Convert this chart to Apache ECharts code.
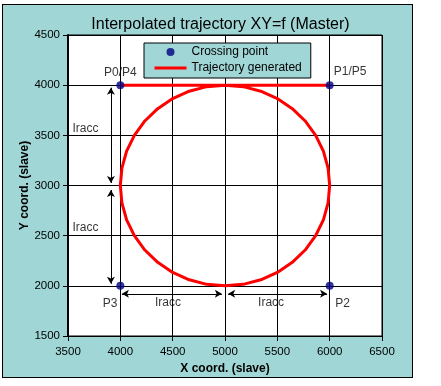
<!DOCTYPE html>
<html><head><meta charset="utf-8">
<script src="https://cdn.jsdelivr.net/npm/echarts@6/dist/echarts.min.js"></script>
<style>
html,body{margin:0;padding:0;background:#fff;}
#frame{position:absolute;left:2px;top:4px;width:409px;height:372px;border:1px solid #000;background:#A0D6D6;}
#c{position:absolute;left:0;top:0;width:441px;height:386px;}
</style></head>
<body>
<div id="frame"></div>
<div id="c"></div>
<script>
var FONT = 'Arial, "Liberation Sans", sans-serif';
var xTicks = [3500, 4000, 4500, 5000, 5500, 6000, 6500];
var yTicks = [1500, 2000, 2500, 3000, 3500, 4000, 4500];
// Crossing points
var crossX = [4000, 6000, 6000, 4000];
var crossY = [4000, 4000, 2000, 2000];
// Trajectory generated
var trajX = [4000, 5000, 5174, 5342, 5500, 5643, 5766, 5866, 5940, 5985, 6000, 5985, 5940, 5866, 5766, 5643, 5500, 5342, 5174, 5000, 4826, 4658, 4500, 4357, 4234, 4134, 4060, 4015, 4000, 4015, 4060, 4134, 4234, 4357, 4500, 4658, 4826, 5000, 6000];
var trajY = [4000, 4000, 3985, 3940, 3866, 3766, 3643, 3500, 3342, 3174, 3000, 2826, 2658, 2500, 2357, 2234, 2134, 2060, 2015, 2000, 2015, 2060, 2134, 2234, 2357, 2500, 2658, 2826, 3000, 3174, 3342, 3500, 3643, 3766, 3866, 3940, 3985, 4000, 4000];
// Annotation texts
var annText = ['P0/P4', 'P1/P5', 'P3', 'P2', 'Iracc', 'Iracc', 'Iracc', 'Iracc'];
var annX = [4000, 6195, 3903, 6123, 3667, 3667, 4455, 5440];
var annY = [4120, 4130, 1820, 1820, 3563, 2577, 1829, 1829];
// Dimension arrows [x1, y1, x2, y2]
var arrows = [[3910, 3975, 3910, 3025], [3910, 2955, 3910, 2020], [4015, 1920, 4970, 1920], [5030, 1920, 5975, 1920]];

var chart = echarts.init(document.getElementById('c'), null, {renderer: 'canvas'});
var crossData = crossX.map(function (x, i) { return [x, crossY[i]]; });
var trajData = trajX.map(function (x, i) { return [x, trajY[i]]; });
var annData = annText.map(function (t, i) { return {name: t, value: [annX[i], annY[i]]}; });
var arrowData = arrows.map(function (a) { return [{coord: [a[0], a[1]]}, {coord: [a[2], a[3]]}]; });
var plain = function (v) { return String(v); };

chart.setOption({
  backgroundColor: 'transparent',
  animation: false,
  textStyle: {fontFamily: FONT},
  title: {
    text: 'Interpolated trajectory XY=f (Master)',
    left: 'center', top: 12,
    textStyle: {fontFamily: FONT, fontSize: 16, fontWeight: 'normal', color: '#000'}
  },
  legend: {
    left: 144, top: 43, orient: 'vertical',
    backgroundColor: '#A0D6D6', borderColor: '#000', borderWidth: 1,
    padding: [3, 9, 4, 9],
    itemWidth: 32, itemHeight: 8, itemGap: 4,
    textStyle: {fontFamily: FONT, fontSize: 12, color: '#000'},
    data: [
      {name: 'Crossing point'},
      {name: 'Trajectory generated', itemStyle: {color: 'rgba(0,0,0,0)', borderWidth: 0, opacity: 0}, lineStyle: {color: '#FF0000', width: 3}}
    ]
  },
  grid: {
    left: 68, top: 35, width: 314, height: 301,
    show: true, backgroundColor: '#fff', borderColor: '#000', borderWidth: 1
  },
  xAxis: {
    type: 'value', min: xTicks[0], max: xTicks[xTicks.length - 1], interval: 500,
    name: 'X coord. (slave)', nameLocation: 'middle', nameGap: 26,
    nameTextStyle: {fontFamily: FONT, fontSize: 12, fontWeight: 'bold', color: '#000'},
    axisLine: {show: true, lineStyle: {color: '#000', width: 1}},
    axisTick: {show: true, length: 5, lineStyle: {color: '#000'}},
    axisLabel: {fontFamily: FONT, fontSize: 11.5, color: '#000', margin: 10, formatter: plain},
    splitLine: {show: true, lineStyle: {color: '#000', width: 1}}
  },
  yAxis: {
    type: 'value', min: yTicks[0], max: yTicks[yTicks.length - 1], interval: 500,
    name: 'Y coord. (slave)', nameLocation: 'middle', nameGap: 37, nameRotate: 90,
    nameMoveOverlap: false,
    nameTextStyle: {fontFamily: FONT, fontSize: 12, fontWeight: 'bold', color: '#000'},
    axisLine: {show: true, lineStyle: {color: '#000', width: 2}},
    axisTick: {show: true, length: 5, lineStyle: {color: '#000'}},
    axisLabel: {fontFamily: FONT, fontSize: 11.5, color: '#000', margin: 8, formatter: plain},
    splitLine: {show: true, lineStyle: {color: '#000', width: 1}}
  },
  series: [
    {
      name: 'Crossing point', type: 'scatter', data: crossData,
      symbol: 'circle', symbolSize: 8, itemStyle: {color: '#000080'}, z: 5
    },
    {
      name: 'Trajectory generated', type: 'line', data: trajData,
      showSymbol: false, symbol: 'none',
      lineStyle: {color: '#FF0000', width: 3}, itemStyle: {color: '#FF0000'}, z: 4
    },
    {
      name: 'ann', type: 'scatter', data: annData, symbolSize: 0, silent: true,
      label: {show: true, position: 'inside', formatter: '{b}', fontFamily: FONT, fontSize: 12, color: '#000'},
      markLine: {
        silent: true, symbol: ['arrow', 'arrow'], symbolSize: [6, 7],
        label: {show: false},
        lineStyle: {color: '#000', width: 1, type: 'solid'},
        data: arrowData
      },
      z: 3
    }
  ]
});
</script>
</body></html>
